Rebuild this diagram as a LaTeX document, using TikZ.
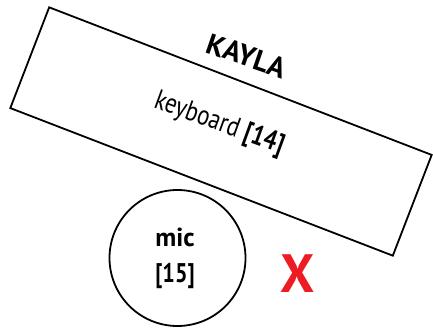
\documentclass[tikz,border=0pt]{standalone}
\usepackage{fontspec}
\setmainfont{PT Sans}
\newfontfamily\narrowfont[FakeStretch=0.82]{PT Sans}

\begin{document}
\begin{tikzpicture}[x=1pt,y=1pt,line width=1.8pt]
  \useasboundingbox (0,0) rectangle (433,-328);
  \node[draw,minimum width=410pt,minimum height=108pt,rotate=-21.1] (kbd) at (221,-131.5) {};
  \node[rotate=-19,font=\bfseries\fontsize{29}{32}\selectfont] (kayla) at (247,-56) {KAYLA};
  \node[rotate=-20,font=\narrowfont\fontsize{28}{30}\selectfont] (kbdlabel) at (219,-124) {keyboard \textbf{[14]}};
  \node[draw,circle,minimum size=136pt] (mic) at (177.5,-258) {};
  \node[font=\bfseries\fontsize{26}{28}\selectfont,anchor=base] (miclabel) at (175,-246.5) {mic};
  \node[font=\narrowfont\bfseries\fontsize{27}{30}\selectfont,anchor=base] (micnum) at (175,-282.5) {[15]};
  \node[text={rgb,255:red,237;green,28;blue,36},font=\bfseries\fontsize{54}{54}\selectfont] (x) at (297.5,-274) {X};
\end{tikzpicture}
\end{document}
